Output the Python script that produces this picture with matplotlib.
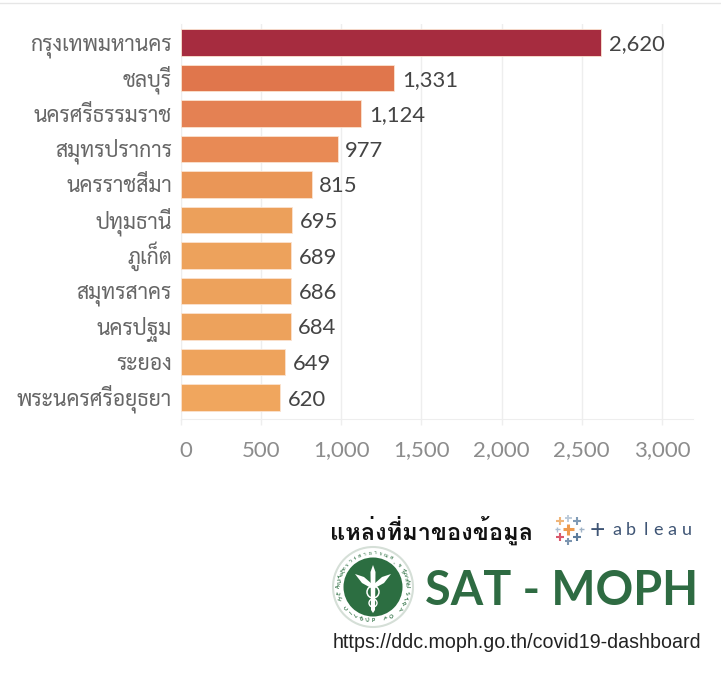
import numpy as np
import matplotlib
matplotlib.use("Agg")
from matplotlib import pyplot as plt
from matplotlib.patches import Circle, Polygon
from matplotlib.transforms import ScaledTranslation

# Data
provinces = ["กรุงเทพมหานคร", "ชลบุรี", "นครศรีธรรมราช", "สมุทรปราการ", "นครราชสีมา", "ปทุมธานี",
             "ภูเก็ต", "สมุทรสาคร", "นครปฐม", "ระยอง", "พระนครศรีอยุธยา"]
cases = [2620, 1331, 1124, 977, 815, 695, 689, 686, 684, 649, 620]
bar_colors = ["#a62c3f", "#e0764c", "#e48153", "#e88a55", "#ea9657", "#eca05b",
              "#eda25c", "#eda25c", "#eda25c", "#eea35c", "#f0a65e"]
x_ticks = [0, 500, 1000, 1500, 2000, 2500, 3000]

W, H = 721, 688
fig = plt.figure(figsize=(W / 100, H / 100), dpi=100)

# Chart axes, placed by pixel
left, right, top, bottom = 181, 693, 24, 419
ax = fig.add_axes([left / W, 1 - bottom / H, (right - left) / W, (bottom - top) / H])
ax.barh(range(len(cases)), cases, height=0.74, color=bar_colors, edgecolor="#fbe3d0", linewidth=0.6, zorder=3)
ax.set_xlim(0, (right - left) / 0.1603)
ax.set_ylim((bottom - 42.5) / 35.5, (top - 42.5) / 35.5)

ax.set_yticks(range(len(provinces)))
ax.set_yticklabels(provinces, family="Sarabun", fontsize=15.3, color="#666666", va="baseline")
ax.tick_params(axis="y", length=0, pad=6.5)
# all names on one baseline, whatever marks they carry
for lab in ax.get_yticklabels():
    lab.set_transform(lab.get_transform() + ScaledTranslation(0, -8 / 100, fig.dpi_scale_trans))

ax.set_xticks(x_ticks)
ax.set_xticklabels([f"{v:,}" for v in x_ticks], family="Lato", fontsize=16, color="#8c8c8c")
ax.tick_params(axis="x", length=4.5, width=1, color="#eeeeee", pad=11)
zero = ax.get_xticklabels()[0]
zero.set_transform(zero.get_transform() + ScaledTranslation(5 / 100, 0, fig.dpi_scale_trans))
ax.grid(axis="x", color="#eeeeee", linewidth=1, zorder=0)
ax.set_axisbelow(True)
for side in ["top", "right"]:
    ax.spines[side].set_visible(False)
for side in ["left", "bottom"]:
    ax.spines[side].set_color("#eeeeee")

for i, v in enumerate(cases):
    ax.annotate(f"{v:,}", (v, i), xytext=(5.5, 0), textcoords="offset points", va="center_baseline",
                family="Lato", fontsize=15.8, color="#444444", zorder=4)

# Footer drawn in pixel coordinates
ov = fig.add_axes([0, 0, 1, 1], zorder=5)
ov.set_xlim(0, W)
ov.set_ylim(H, 0)
ov.axis("off")
ov.patch.set_alpha(0)

# faint line left over at the top edge of the screenshot
ov.plot([0, W], [3, 3], color="#e6e6e6", lw=1)

ov.text(330, 530, "แหล่งที่มาของข้อมูล", family="Loma", fontweight="bold", fontsize=17,
        color="#111111", va="center", ha="left")

# tableau mark
crosses = [(568, 529, 5.5, 2.2, "#ee9a4d"), (568, 518, 3.5, 1.3, "#b9c8d8"), (568, 541, 3.5, 1.5, "#7c95b0"),
           (560, 521, 4, 1.5, "#f0b578"), (577, 521, 4, 1.5, "#7f9ab5"), (560, 537, 4, 1.5, "#d9586c"),
           (577, 537, 4, 1.5, "#5c7c9c"), (557, 529, 2.5, 1, "#a9bdd2"), (581, 529, 2.5, 1, "#9fb2c6")]
for cx, cy, r, lw, c in crosses:
    ov.plot([cx - r, cx + r], [cy, cy], color=c, lw=lw, solid_capstyle="butt")
    ov.plot([cx, cx], [cy - r, cy + r], color=c, lw=lw, solid_capstyle="butt")
ov.text(597, 530, "+", family="Lato", fontsize=19, color="#3f5575", ha="center", va="center")
for lx, ch in zip([617, 631, 646, 658, 672, 687], "ableau"):
    ov.text(lx, 530, ch, family="Lato", fontsize=13, color="#3f5575", ha="center", va="center")

# SAT - MOPH
ov.text(425, 587, "SAT - MOPH", family="Lato", fontweight="bold", fontsize=33.7, color="#2e6b42", ha="left", va="center_baseline")

# seal
green = "#2c6e41"
sx, sy = 373, 587
ov.add_patch(Circle((sx, sy), 40, fc="white", ec="#d5dfd7", lw=1.5))
ov.add_patch(Circle((sx, sy), 29.5, fc=green, ec="none", zorder=2))
for t, ch in zip(np.radians(np.linspace(-120, 120, 25)), "MINISTRY OF PUBLIC HEALTH"):
    ov.text(sx + 34 * np.sin(t + np.pi), sy - 34 * np.cos(t + np.pi), ch, fontsize=3.8, fontweight="bold",
            color=green, ha="center", va="center", family="Lato", rotation=np.degrees(t))
for t, ch in zip(np.radians(np.linspace(-85, 85, 20)), "กระทรวงสาธารณสุข กสธ"):
    ov.text(sx + 34 * np.sin(t), sy - 34 * np.cos(t), ch, fontsize=4, color=green,
            ha="center", va="center", family="Sarabun", rotation=-np.degrees(t))
# caduceus, rough shape
ov.add_patch(Polygon([(sx, 565), (sx + 2.5, 572), (sx + 2, 610), (sx, 613), (sx - 2, 610), (sx - 2.5, 572)], fc="white", zorder=3))
ov.add_patch(Polygon([(sx - 18, 574), (sx - 9, 577), (sx - 1, 584), (sx - 2, 588), (sx - 11, 583)], fc="white", zorder=3))
ov.add_patch(Polygon([(sx + 18, 574), (sx + 9, 577), (sx + 1, 584), (sx + 2, 588), (sx + 11, 583)], fc="white", zorder=3))
ov.add_patch(Circle((sx, 592), 6, fc="none", ec="white", lw=1.1, zorder=3))
ov.add_patch(Circle((sx, 603), 4, fc="none", ec="white", lw=1, zorder=3))

ov.text(333, 642, "https://ddc.moph.go.th/covid19-dashboard", family="Liberation Sans", fontsize=14.1,
        color="#222222", ha="left", va="center")

fig.savefig("out.png", dpi=100)
